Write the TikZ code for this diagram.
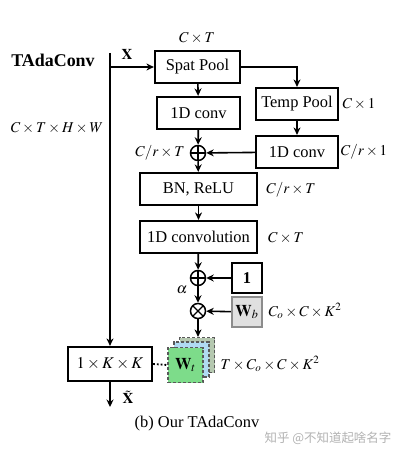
\documentclass[tikz,border=0pt]{standalone}
\usepackage{mathptmx}
\usepackage{fontspec}
\setmainfont{Liberation Serif}
\newfontfamily\cjk{Noto Sans CJK SC}
\usetikzlibrary{calc,positioning,arrows.meta}
\definecolor{wtfront}{HTML}{7DDC8A}
\definecolor{wtmid}{HTML}{B0DAF2}
\definecolor{wtback}{HTML}{B5C8B0}
\tikzset{
  blk/.style={draw, line width=2.2bp, minimum height=32bp, inner sep=2bp},
  op/.style={draw, circle, line width=1.5bp, minimum size=15bp, inner sep=0pt},
  plus/.style={op, path picture={
      \draw[line width=1.3bp] (path picture bounding box.north) -- (path picture bounding box.south)
        (path picture bounding box.west) -- (path picture bounding box.east);}},
  times/.style={op, path picture={
      \draw[line width=1.3bp] (path picture bounding box.north west) -- (path picture bounding box.south east)
        (path picture bounding box.south west) -- (path picture bounding box.north east);}},
  arr/.style={-{Stealth[length=7.5bp,width=7bp]}, line width=1.6bp},
  wsq/.style={draw=black!65, densely dashed, line width=1.2bp, minimum size=35bp, inner sep=0pt},
  dim/.style={inner sep=1bp, font=\fontsize{15}{18}\selectfont},
}
\begin{document}
\begin{tikzpicture}[x=1bp, y=-1bp, font=\fontsize{16.5}{20}\selectfont]
    \useasboundingbox (0,0) rectangle (407,459);
    % input
    \node[font=\fontsize{18}{20}\selectfont\bfseries] (title) at (53,60) {TAdaConv};
    \coordinate (xin) at (110,53);
    \coordinate (xout) at (110,407);
    \node[dim] (xlab) at (127,54) {$\mathbf{X}$};
    \node[dim] (xdim) at (57,128) {$C\times T\times H\times W$};

    % calibration branch
    \node[blk, minimum width=85bp] (spat) at (197.5,67) {Spat Pool};
    \node[blk, minimum width=83bp] (conva) at (198.5,113) {1D conv};
    \node[plus] (add1) at (198,153) {};
    \node[blk, minimum width=82bp] (tpool) at (297,104) {Temp Pool};
    \node[blk, minimum width=82bp] (convb) at (297,152) {1D conv};
    \node[blk, minimum width=117bp] (bn) at (198.5,189) {BN, ReLU};
    \node[blk, minimum width=117bp] (convc) at (198.5,237) {1D convolution};
    \node[plus] (add2) at (198,278) {};
    \node[times] (mul) at (198,311) {};
    \node[blk, minimum width=30bp, minimum height=30bp] (one) at (247,278) {\textbf{1}};
    \node[blk, draw=black!45, fill=black!12, minimum width=30bp, minimum height=30bp] (wb) at (247,312) {$\mathbf{W}_b$};

    % dimensions
    \node[dim] (d1) at (197,38) {$C\times T$};
    \node[dim] (d2) at (160,153) {$C/r\times T$};
    \node[dim] (d3) at (359,104) {$C\times 1$};
    \node[dim] (d4) at (364,152) {$C/r\times 1$};
    \node[dim] (d5) at (291,190) {$C/r\times T$};
    \node[dim] (d6) at (286,238) {$C\times T$};
    \node[dim] (alpha) at (182,290) {$\alpha$};
    \node[dim] (d7) at (305,311) {$C_o\times C\times K^2$};

    % adaptive conv
    \node[blk, minimum width=84bp, minimum height=34bp] (kk) at (110,364) {$1\times K\times K$};
    \node[wsq, fill=wtback] (wback) at (197,355) {};
    \node[wsq, fill=wtmid] (wmid) at (191.5,359.5) {};
    \node[wsq, fill=wtfront] (wt) at (185.5,365) {$\mathbf{W}_t$};
    \node[dim] (d8) at (270,364) {$T\times C_o\times C\times K^2$};
    \node[dim] (xtl) at (128,397) {$\tilde{\mathbf{X}}$};

    \draw[arr] (xin) -- (kk.north);
    \draw[arr] (xin |- spat.west) -- (spat.west);
    \draw[arr] (spat) -- (conva);
    \draw[arr] (spat.east) -| (tpool.north);
    \draw[arr] (tpool) -- (convb);
    \draw[arr] (convb) -- (add1);
    \draw[arr] (conva) -- (add1);
    \draw[arr] (add1) -- (bn);
    \draw[arr] (bn) -- (convc);
    \draw[arr] (convc) -- (add2);
    \draw[arr] (one) -- (add2);
    \draw[arr] (add2) -- (mul);
    \draw[arr] (wb) -- (mul);
    \draw[arr] (mul) -- (mul |- wback.north);
    \draw[dotted, line width=1.8bp] (kk.east) -- (wt.west);
    \draw[arr] (kk.south) -- (xout);

    \node (cap) at (197,424) {(b) Our TAdaConv};
    \node[text=black!30, font=\fontsize{12.5}{14}\cjk] (mark) at (328,438) {知乎 @不知道起啥名字};
\end{tikzpicture}
\end{document}
